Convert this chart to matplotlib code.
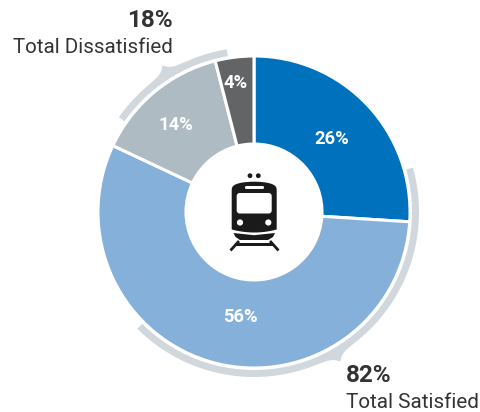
import numpy as np
import matplotlib
matplotlib.use("Agg")
import matplotlib.pyplot as plt
from matplotlib.patches import Polygon, Circle, FancyBboxPatch, Rectangle

plt.rcParams['font.family'] = ['Roboto', 'DejaVu Sans']

segment_labels = ['26%', '56%', '14%', '4%']
segment_values = [26, 56, 14, 4]
segment_colors = ['#0071BC', '#85B0DA', '#AEBBC3', '#636466']
total_values = ['82%', '18%']
total_names = ['Total Satisfied', 'Total Dissatisfied']

W, H = 481, 412
CX, CY = 254, H - 212
R_OUT, R_IN = 156, 68
INK = '#333335'
ARC = '#D1D8DD'

fig = plt.figure(figsize=(W / 100, H / 100), dpi=100)
ax = fig.add_axes([0, 0, 1, 1])

wedges, _ = ax.pie(segment_values, colors=segment_colors, startangle=90,
                   counterclock=False, center=(CX, CY), radius=R_OUT,
                   wedgeprops=dict(width=R_OUT - R_IN, edgecolor='white', linewidth=2.2),
                   frame=True)
ax.set_xlim(0, W)
ax.set_ylim(0, H)
ax.set_aspect('equal')
ax.axis('off')

def bracket(a0, a1, mid):
    t = np.radians(np.linspace(a0, a1, 400))
    m = np.radians(mid)
    outer = 165 + 8 * np.exp(-np.abs(t - m) / np.radians(1.8))
    inner = np.full_like(t, 158)
    xs = np.r_[CX + outer * np.cos(t), CX + inner[::-1] * np.cos(t[::-1])]
    ys = np.r_[CY + outer * np.sin(t), CY + inner[::-1] * np.sin(t[::-1])]
    ax.add_patch(Polygon(np.c_[xs, ys], closed=True, fc=ARC, ec='none'))

bracket(-135, 15.6, -60)
bracket(99.5, 145, 122)

label_pos = [(332, 139), (240, 317), (176, 125), (236, 83)]
for s, (x, y) in zip(segment_labels, label_pos):
    ax.text(x, H - y, s, color='white', fontsize=13.2, fontweight='bold', ha='center', va='center')

ax.text(173, H - 27, total_values[1], color=INK, fontsize=17.5, fontweight='bold', ha='right', va='baseline')
ax.text(173, H - 53, total_names[1], color=INK, fontsize=14.8, ha='right', va='baseline')
ax.text(346, H - 382.5, total_values[0], color=INK, fontsize=17.5, fontweight='bold', ha='left', va='baseline')
ax.text(346, H - 408, total_names[0], color=INK, fontsize=14.9, ha='left', va='baseline')

# train icon
K = '#1a1a1a'
def Y(v):
    return H - v
for x in (250, 258.3):
    ax.add_patch(Circle((x, Y(175.7)), 2.4, fc=K, ec='none'))
tt = np.linspace(0, np.pi, 40)
top_x = 254.2 + 22.5 * np.cos(tt)
top_y = 191 - 9.3 * np.sin(tt) ** 0.6
low_x = np.linspace(231.7, 276.7, 30)
low_y = 229.5 + 3 * (1 - ((low_x - 254.2) / 22.5) ** 2)
body_x = np.r_[top_x, low_x]
body_y = np.r_[top_y, low_y]
ax.add_patch(Polygon(np.c_[body_x, Y(body_y)], closed=True, fc=K, ec='none'))
ax.add_patch(FancyBboxPatch((236.7, Y(213.5)), 35, 20.5, boxstyle='round,pad=0,rounding_size=3',
                            fc='white', ec='none'))
ax.add_patch(FancyBboxPatch((245, Y(189)), 19, 3, boxstyle='round,pad=0,rounding_size=1.3',
                            fc='white', ec='none'))
for x in (240, 268.3):
    ax.add_patch(Circle((x, Y(222.5)), 3.1, fc='white', ec='none'))
ax.add_patch(Polygon([(233.5, Y(233)), (254, Y(235.2)), (275, Y(233)), (273, Y(237)), (268, Y(240)), (240, Y(240)), (235.5, Y(237))],
                     closed=True, fc=K, ec='none'))
ax.add_patch(Rectangle((235.5, Y(245.5)), 38, 2.4, fc=K, ec='none'))
ax.plot([239, 230.5], [Y(241), Y(250.5)], color=K, lw=2.0, solid_capstyle='butt')
ax.plot([270, 278.5], [Y(241), Y(250.5)], color=K, lw=2.0, solid_capstyle='butt')

fig.savefig('out.png', dpi=100, facecolor='white')
